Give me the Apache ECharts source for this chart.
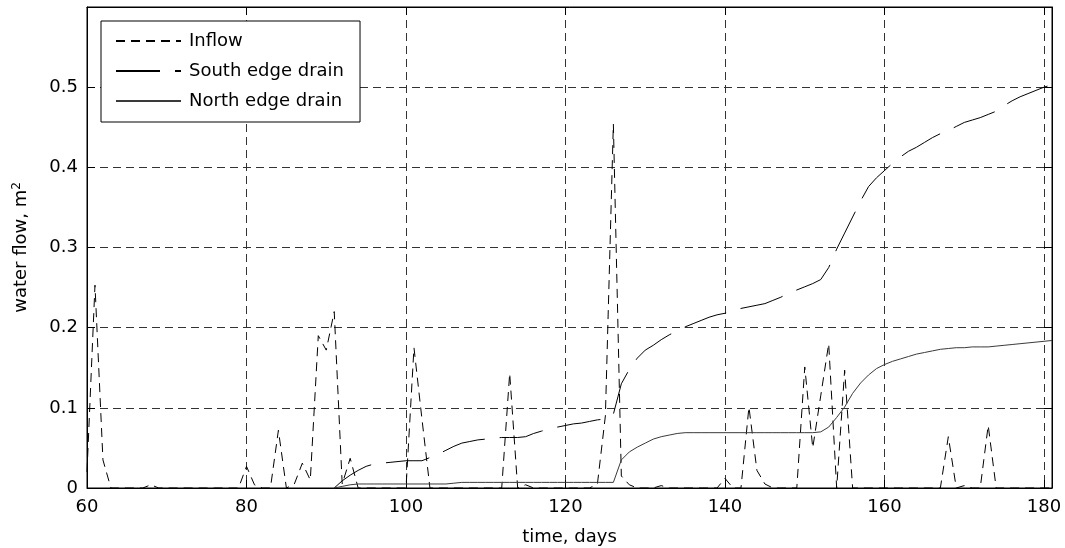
<!DOCTYPE html>
<html>
<head>
<meta charset="utf-8">
<script src="https://cdn.jsdelivr.net/npm/echarts@6/dist/echarts.min.js"></script>
<style>
  html, body { margin: 0; padding: 0; background: #fff; }
  #chart { width: 1065px; height: 548px; }
</style>
</head>
<body>
<div id="chart"></div>
<script>
// ---- data ----
const xTicks = [60, 80, 100, 120, 140, 160, 180];
const yTicks = [0, 0.1, 0.2, 0.3, 0.4, 0.5];
const seriesNames = ['Inflow', 'South edge drain', 'North edge drain'];

// daily inflow, day 60 .. 181
const inflowStartDay = 60;
const inflow = [
  0.020, 0.253, 0.035, 0, 0, 0, 0, 0, 0.004, 0,          // 60-69
  0, 0, 0, 0, 0, 0, 0, 0, 0, 0,                          // 70-79
  0.027, 0.004, 0, 0, 0.072, 0, 0.005, 0.031, 0.010, 0.190, // 80-89
  0.172, 0.220, 0.005, 0.037, 0, 0, 0, 0, 0, 0,          // 90-99
  0, 0.175, 0.086, 0, 0, 0, 0, 0, 0, 0,                  // 100-109
  0, 0, 0, 0.143, 0, 0.004, 0, 0, 0, 0,                  // 110-119
  0, 0, 0, 0, 0.005, 0.090, 0.454, 0.015, 0.004, 0,      // 120-129
  0, 0, 0.003, 0, 0, 0, 0, 0, 0, 0,                      // 130-139
  0.012, 0, 0, 0.101, 0.022, 0.005, 0, 0, 0, 0,          // 140-149
  0.151, 0.050, 0.115, 0.180, 0.000, 0.147, 0, 0, 0, 0,  // 150-159
  0, 0, 0, 0, 0, 0, 0, 0, 0.064, 0,                      // 160-169
  0.003, 0, 0, 0.078, 0, 0, 0, 0, 0, 0,                  // 170-179
  0, 0                                                   // 180-181
];

// cumulative drain flows, day 91 .. 181
const drainStartDay = 91;
const southDrain = [
  0.000, 0.009, 0.016, 0.022, 0.027, 0.030, 0.031, 0.032, 0.033,             // 91-99
  0.034, 0.034, 0.034, 0.038, 0.042, 0.047, 0.052, 0.056, 0.058, 0.060,      // 100-109
  0.061, 0.062, 0.063, 0.063, 0.063, 0.064, 0.068, 0.071, 0.074, 0.076,      // 110-119
  0.078, 0.080, 0.081, 0.083, 0.085, 0.086, 0.092, 0.130, 0.148, 0.162,      // 120-129
  0.172, 0.178, 0.185, 0.191, 0.196, 0.201, 0.205, 0.209, 0.213, 0.216,      // 130-139
  0.218, 0.221, 0.224, 0.226, 0.228, 0.230, 0.234, 0.238, 0.243, 0.247,      // 140-149
  0.251, 0.255, 0.260, 0.275, 0.298, 0.318, 0.338, 0.358, 0.376, 0.387,      // 150-159
  0.396, 0.405, 0.413, 0.420, 0.425, 0.431, 0.437, 0.442, 0.446, 0.451,      // 160-169
  0.456, 0.459, 0.462, 0.466, 0.470, 0.477, 0.483, 0.488, 0.492, 0.496,      // 170-179
  0.500, 0.503                                                               // 180-181
];
const northDrain = [
  0.000, 0.002, 0.004, 0.005, 0.005, 0.005, 0.005, 0.005, 0.005,             // 91-99
  0.005, 0.005, 0.005, 0.005, 0.005, 0.005, 0.006, 0.007, 0.007, 0.007,      // 100-109
  0.007, 0.007, 0.007, 0.007, 0.007, 0.007, 0.007, 0.007, 0.007, 0.007,      // 110-119
  0.007, 0.007, 0.007, 0.007, 0.007, 0.007, 0.007, 0.035, 0.045, 0.051,      // 120-129
  0.056, 0.061, 0.064, 0.066, 0.068, 0.069, 0.069, 0.069, 0.069, 0.069,      // 130-139
  0.069, 0.069, 0.069, 0.069, 0.069, 0.069, 0.069, 0.069, 0.069, 0.069,      // 140-149
  0.069, 0.069, 0.070, 0.076, 0.088, 0.101, 0.118, 0.131, 0.141, 0.149,      // 150-159
  0.154, 0.158, 0.161, 0.164, 0.167, 0.169, 0.171, 0.173, 0.174, 0.175,      // 160-169
  0.175, 0.176, 0.176, 0.176, 0.177, 0.178, 0.179, 0.180, 0.181, 0.182,      // 170-179
  0.183, 0.184                                                               // 180-181
];

// ---- build ----
const toPairs = (start, arr) => arr.map((v, i) => [start + i, v]);
const FONT = '"DejaVu Sans", "Liberation Sans", Arial, sans-serif';
const FS = 18;
const INK = '#000';

const chart = echarts.init(document.getElementById('chart'), null, { renderer: 'canvas' });

const gridLine = { show: true, lineStyle: { color: '#333', width: 1, type: [8, 5] } };

const option = {
  animation: false,
  backgroundColor: '#fff',
  textStyle: { fontFamily: FONT },
  grid: { left: 87, right: 13, top: 7, bottom: 60, show: true, borderColor: INK, borderWidth: 1,
          backgroundColor: 'transparent', containLabel: false, outerBoundsMode: 'none' },
  legend: {
    data: seriesNames,
    orient: 'vertical',
    left: 101, top: 21,
    itemWidth: 65, itemHeight: 18, itemGap: 12,
    padding: [11, 16, 12, 14],
    backgroundColor: '#fff',
    borderColor: INK, borderWidth: 1, borderRadius: 0,
    itemStyle: { opacity: 0 },
    textStyle: { fontFamily: FONT, fontSize: FS, lineHeight: 18, color: INK, padding: [0, 0, 0, 3] },
    selectedMode: false
  },
  xAxis: [
    {
      type: 'value', min: 60, max: 181, interval: 20,
      name: 'time, days', nameLocation: 'middle', nameGap: 40,
      nameTextStyle: { fontFamily: FONT, fontSize: FS, color: INK },
      axisLine: { show: true, onZero: false, lineStyle: { color: INK, width: 1 } },
      axisTick: { show: true, inside: true, length: 8, lineStyle: { color: INK } },
      axisLabel: { fontFamily: FONT, fontSize: FS, color: INK, margin: 10,
        customValues: xTicks, formatter: v => String(v) },
      splitLine: gridLine
    },
    {
      type: 'value', min: 60, max: 181, interval: 20, position: 'top',
      axisLine: { show: true, onZero: false, lineStyle: { color: INK, width: 1 } },
      axisTick: { show: true, inside: true, length: 8, lineStyle: { color: INK } },
      axisLabel: { show: false }, splitLine: { show: false }
    }
  ],
  yAxis: [
    {
      type: 'value', min: 0, max: 0.6, interval: 0.1,
      name: 'water flow, m{sup|2}', nameLocation: 'middle', nameGap: 56, nameRotate: 90,
      nameTextStyle: { fontFamily: FONT, fontSize: FS, color: INK,
        rich: { sup: { fontFamily: FONT, fontSize: 12, color: INK, verticalAlign: 'bottom', padding: [0, 0, 8, 0] } } },
      axisLine: { show: true, onZero: false, lineStyle: { color: INK, width: 1 } },
      axisTick: { show: true, inside: true, length: 8, lineStyle: { color: INK } },
      axisLabel: { fontFamily: FONT, fontSize: FS, color: INK, margin: 9,
        formatter: v => (yTicks.some(t => Math.abs(t - v) < 1e-9) ? String(+v.toFixed(1)) : '') },
      splitLine: gridLine
    },
    {
      type: 'value', min: 0, max: 0.6, interval: 0.1, position: 'right',
      axisLine: { show: true, onZero: false, lineStyle: { color: INK, width: 1 } },
      axisTick: { show: true, inside: true, length: 8, lineStyle: { color: INK } },
      axisLabel: { show: false }, splitLine: { show: false }
    }
  ],
  series: [
    {
      name: seriesNames[0], type: 'line', data: toPairs(inflowStartDay, inflow),
      xAxisIndex: 0, yAxisIndex: 0, symbol: 'none', z: 3,
      lineStyle: { color: INK, width: 1, type: [9, 6] }, itemStyle: { color: INK }
    },
    {
      name: seriesNames[1], type: 'line', data: toPairs(drainStartDay, southDrain),
      xAxisIndex: 0, yAxisIndex: 0, symbol: 'none', z: 4,
      lineStyle: { color: INK, width: 1, type: [44, 15] }, itemStyle: { color: INK }
    },
    {
      name: seriesNames[2], type: 'line', data: toPairs(drainStartDay, northDrain),
      xAxisIndex: 0, yAxisIndex: 0, symbol: 'none', z: 4,
      lineStyle: { color: '#3a3a3a', width: 1, type: 'solid' }, itemStyle: { color: '#3a3a3a' }
    }
  ]
};
chart.setOption(option);
</script>
</body>
</html>
